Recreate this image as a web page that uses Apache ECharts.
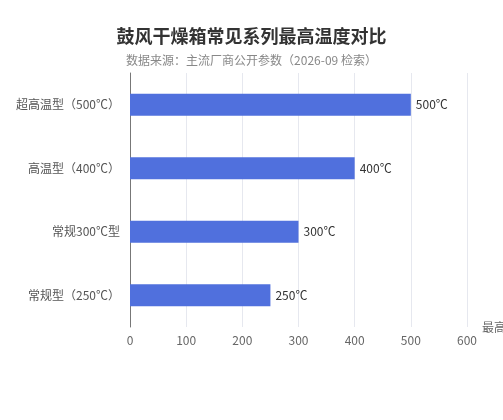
<!DOCTYPE html>
<html>
<head>
<meta charset="utf-8">
<script src="https://cdn.jsdelivr.net/npm/echarts@6/dist/echarts.min.js"></script>
<style>
  html, body { margin: 0; width: 100%; height: 100%; background: #fff; }
  #chart { width: 503px; height: 420px; }
</style>
</head>
<body>
<div id="chart"></div>
<script>
// 数据（从下到上）
var categories = ['常规型（250℃）', '常规300℃型', '高温型（400℃）', '超高温型（500℃）'];
var maxTemps = [250, 300, 400, 500];
var axisMin = 0, axisMax = 600, axisStep = 100;

var chart = echarts.init(document.getElementById('chart'));
var option = {
  textStyle: { fontFamily: '"Noto Sans CJK SC", "Noto Sans", sans-serif' },
  title: {
    text: '鼓风干燥箱常见系列最高温度对比',
    subtext: '数据来源：主流厂商公开参数（2026-09 检索）',
    left: 'center',
    top: 22,
    itemGap: 9,
    textStyle: { fontSize: 18, fontWeight: 'bold', color: '#333' },
    subtextStyle: { fontSize: 12, color: '#888' }
  },
  grid: { left: 130, right: 36, top: 73, bottom: 93, containLabel: false, outerBoundsMode: 'none' },
  xAxis: {
    type: 'value',
    min: axisMin,
    max: axisMax,
    interval: axisStep,
    name: '最高温度（℃）',
    nameGap: 15,
    nameTextStyle: { color: '#666', fontSize: 12 },
    axisLine: { show: false },
    axisTick: { show: false },
    axisLabel: { color: '#666', fontSize: 12, margin: 7 },
    splitLine: { lineStyle: { color: '#E6E8EF' } }
  },
  yAxis: {
    type: 'category',
    data: categories,
    axisLine: { show: true, lineStyle: { color: '#777' } },
    axisTick: { show: false },
    axisLabel: { color: '#555', fontSize: 12, margin: 10 }
  },
  series: [{
    type: 'bar',
    data: maxTemps,
    barWidth: 22,
    itemStyle: { color: '#5070dd' },
    label: {
      show: true,
      position: 'right',
      formatter: '{c}℃',
      color: '#333',
      fontSize: 12
    }
  }]
};
chart.setOption(option);
</script>
</body>
</html>
